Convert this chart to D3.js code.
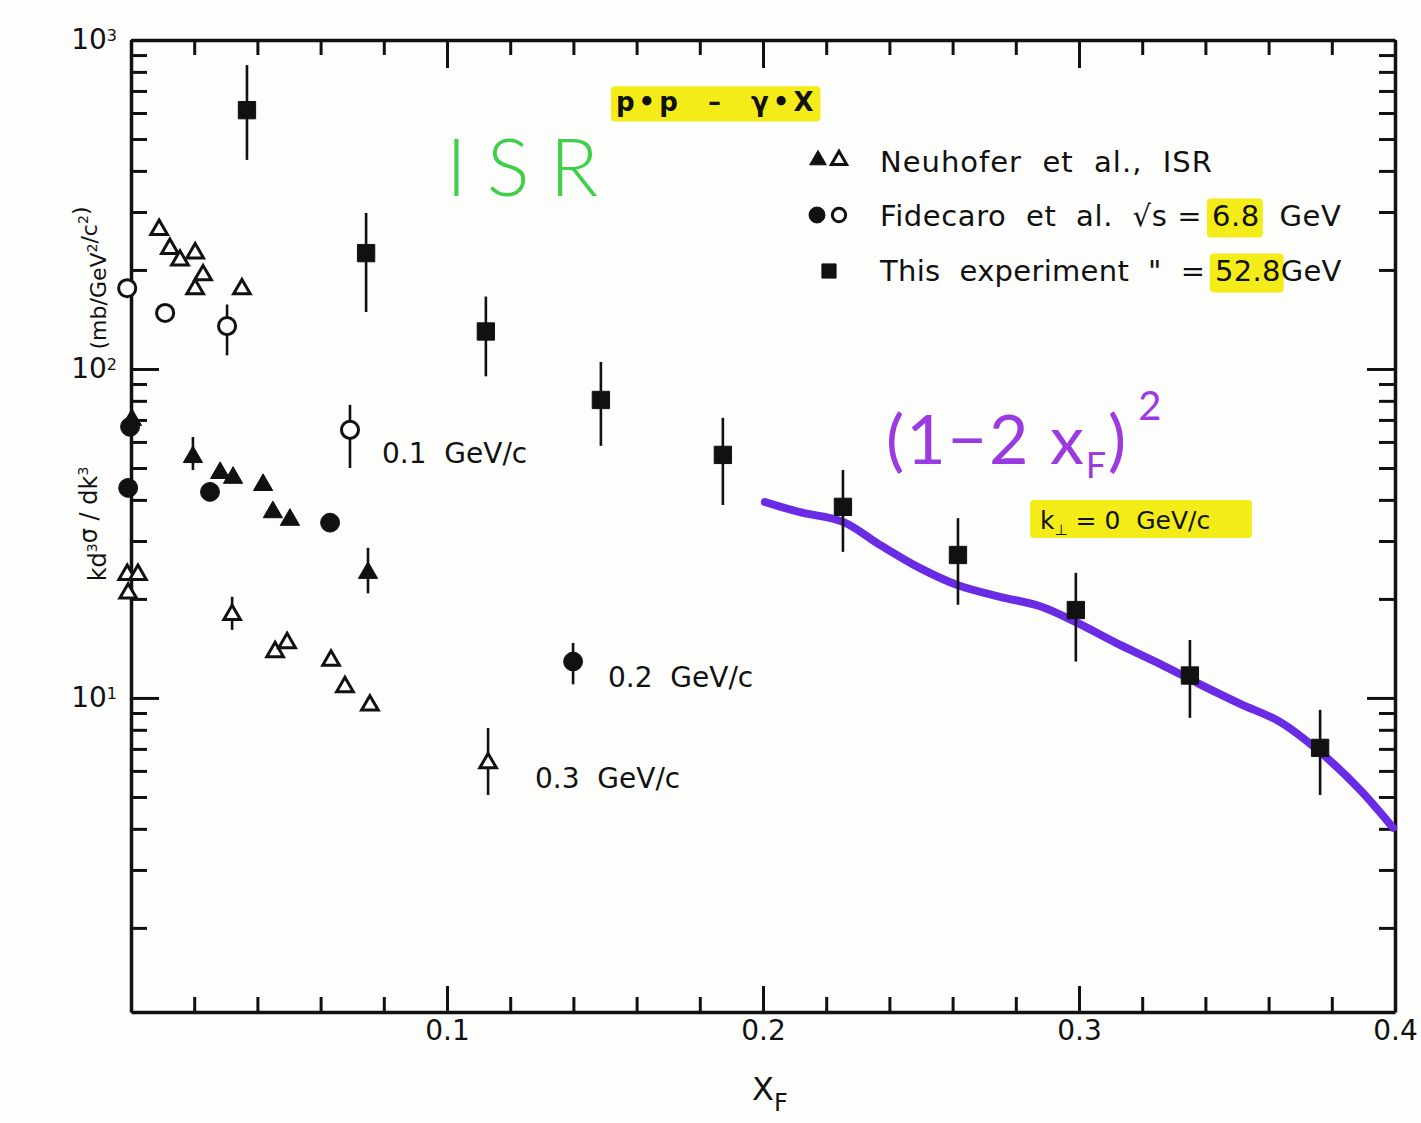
<!DOCTYPE html>
<html>
<head>
<meta charset="utf-8">
<script src="https://cdn.jsdelivr.net/npm/d3@7"></script>
<style>
body { margin: 0; background: #fdfdfb; }
text { font-family: "DejaVu Sans", sans-serif; fill: #111; white-space: pre; }
</style>
</head>
<body>
<div class="chart"></div>
<script>
var width = 1421,
    height = 1123;

// This experiment, sqrt(s) = 52.8 GeV : [xF, value, errLow, errHigh]
var thisExperiment = [
  [0.0367, 612, 432, 839],
  [0.0744, 225, 149, 298],
  [0.1123, 130, 95, 166],
  [0.1487, 80.5, 58.4, 105],
  [0.1873, 54.8, 38.6, 71],
  [0.2253, 38.1, 27.8, 49.3],
  [0.2617, 27.2, 19.2, 35.2],
  [0.2990, 18.5, 12.9, 24],
  [0.3351, 11.7, 8.7, 15],
  [0.3763, 7.05, 5.07, 9.2]
];

// Neuhofer et al., ISR (open = 0.1 and 0.3 GeV/c, filled = 0.2 GeV/c)
var neuhoferOpen01 = [
  [0.0089, 265], [0.0123, 232], [0.0155, 214], [0.0203, 225],
  [0.0228, 193], [0.0203, 175], [0.0351, 175]
];
var neuhoferFilled02 = [
  [0.0003, 70], [0.0196, 54, 49.3, 62.1], [0.0282, 48.3], [0.0323, 46.7],
  [0.0418, 44.4], [0.0449, 36.7], [0.0503, 34.8], [0.0750, 24.0, 20.8, 28.6]
];
var neuhoferOpen03 = [
  [-0.0012, 23.7], [0.0022, 23.7], [-0.0009, 20.8], [0.0320, 17.9, 16.1, 20.3],
  [0.0456, 13.8], [0.0494, 14.7], [0.0633, 13.0], [0.0677, 10.8],
  [0.0756, 9.5], [0.1130, 6.34, 5.07, 8.1]
];

// Fidecaro et al., sqrt(s) = 6.8 GeV
var fidecaroOpen01 = [
  [-0.0012, 176], [0.0108, 148], [0.0304, 135, 110, 157], [0.0693, 65.3, 50, 77.8]
];
var fidecaroFilled02 = [
  [-0.0003, 66.7], [-0.0009, 43.5], [0.0250, 42.3], [0.0630, 34.1], [0.1399, 12.9, 11.0, 14.7]
];

// hand drawn (1-2xF)^2 curve
var curveX = [0.2006, 0.2117, 0.2253, 0.2370, 0.2497, 0.2617, 0.2750, 0.2877, 0.2990,
              0.3130, 0.3256, 0.3383, 0.3510, 0.3636, 0.3763, 0.3890, 0.3994];
var curveY = [39.4, 36.7, 34.3, 29.2, 24.8, 22.0, 20.3, 19.0, 17.0,
              14.5, 12.7, 11.0, 9.6, 8.46, 6.85, 5.25, 4.03];

var xTickLabels = ["0.1", "0.2", "0.3", "0.4"];
var yTickLabels = {10: "1", 100: "2", 1000: "3"};

var svg = d3.select(".chart").append("svg")
    .attr("width", width)
    .attr("height", height);

svg.append("rect").attr("width", width).attr("height", height).attr("fill", "#fdfdfb");

var x = d3.scaleLinear().domain([0, 0.4]).range([131, 1395]);
var y = d3.scaleLog().domain([1.11, 1000]).range([1012, 40]);

var xTicks = d3.range(0, 21).map(function(i) { return i * 0.02; });
var isMajorX = function(d) { return Math.abs(d * 10 - Math.round(d * 10)) < 1e-6; };
var yTicks = y.ticks();
var isMajorY = function(d) { return yTickLabels[d] !== undefined; };

// axes, ticks pointing inward
var gBottom = svg.append("g").attr("transform", "translate(0," + y.range()[0] + ")")
    .call(d3.axisBottom(x).tickValues(xTicks).tickSizeInner(-15).tickSizeOuter(0).tickPadding(8)
      .tickFormat(function(d) { return isMajorX(d) && d > 0 ? xTickLabels[Math.round(d * 10) - 1] : ""; }));
gBottom.selectAll(".tick line").attr("y2", function(d) { return isMajorX(d) ? -26 : -15; });

var gTop = svg.append("g").attr("transform", "translate(0," + y.range()[1] + ")")
    .call(d3.axisTop(x).tickValues(xTicks).tickSizeInner(-15).tickSizeOuter(0).tickFormat(""));
gTop.selectAll(".tick line").attr("y2", function(d) { return isMajorX(d) ? 28 : 15; });

var gLeft = svg.append("g").attr("transform", "translate(" + x.range()[0] + ",0)")
    .call(d3.axisLeft(y).tickValues(yTicks).tickSizeInner(-16).tickSizeOuter(0).tickPadding(14)
      .tickFormat(function(d) { return isMajorY(d) ? "10" : ""; }));
gLeft.selectAll(".tick line").attr("x2", function(d) { return isMajorY(d) ? 28 : 16; });
gLeft.selectAll(".tick text").filter(isMajorY).append("tspan")
    .attr("dy", "-0.55em").attr("font-size", 16).text(function(d) { return yTickLabels[d]; });

var gRight = svg.append("g").attr("transform", "translate(" + x.range()[1] + ",0)")
    .call(d3.axisRight(y).tickValues(yTicks).tickSizeInner(-16).tickSizeOuter(0).tickFormat(""));
gRight.selectAll(".tick line").attr("x2", function(d) { return isMajorY(d) ? -28 : -16; });

svg.selectAll(".domain").attr("stroke", "#111").attr("stroke-width", 3.5);
svg.selectAll(".tick line").attr("stroke", "#111").attr("stroke-width", 3);
svg.selectAll(".tick text").attr("font-size", 28).attr("fill", "#111")
    .style("font-family", "DejaVu Sans");

// axis titles (split around the 10^2 label, as in the original)
function supText(sel, parts) {
  parts.forEach(function(p) {
    if (p.sup) {
      sel.append("tspan").attr("dy", -9).attr("font-size", 14).text(p.sup);
      sel.append("tspan").attr("dy", 9).text("");
    } else {
      sel.append("tspan").text(p.t);
    }
  });
}
var yTitleA = svg.append("text")
    .attr("transform", "translate(106,524) rotate(-90)")
    .attr("text-anchor", "middle")
    .attr("font-size", 24);
supText(yTitleA, [{t: "kd"}, {sup: "3"}, {t: "σ / dk"}, {sup: "3"}]);

var yTitleB = svg.append("text")
    .attr("transform", "translate(106,278) rotate(-90)")
    .attr("text-anchor", "middle")
    .attr("font-size", 22);
supText(yTitleB, [{t: "(mb/GeV"}, {sup: "2"}, {t: "/c"}, {sup: "2"}, {t: ")"}]);

var xTitle = svg.append("text").attr("x", 752).attr("y", 1100).attr("font-size", 32);
xTitle.append("tspan").text("X");
xTitle.append("tspan").attr("dy", 11).attr("font-size", 24).text("F");

// hand drawn fit curve
var curvePts = curveX.map(function(d, i) { return [d, curveY[i]]; });
svg.append("path")
    .datum(curvePts)
    .attr("d", d3.line().x(function(d) { return x(d[0]); }).y(function(d) { return y(d[1]); })
      .curve(d3.curveCatmullRom))
    .attr("fill", "none")
    .attr("stroke", "#6a2be4")
    .attr("stroke-width", 8)
    .attr("stroke-linecap", "round");

// error bars
function errorBars(data) {
  svg.append("g").selectAll("line")
    .data(data.filter(function(d) { return d.length > 2; }))
    .enter().append("line")
      .attr("x1", function(d) { return x(d[0]); })
      .attr("x2", function(d) { return x(d[0]); })
      .attr("y1", function(d) { return y(d[2]); })
      .attr("y2", function(d) { return y(d[3]); })
      .attr("stroke", "#111")
      .attr("stroke-width", 2.6);
}

function markers(data, type, size, open) {
  errorBars(data);
  svg.append("g").selectAll("path")
    .data(data)
    .enter().append("path")
      .attr("d", d3.symbol().type(type).size(size))
      .attr("transform", function(d) { return "translate(" + x(d[0]) + "," + y(d[1]) + ")"; })
      .attr("fill", open ? "#fdfdfb" : "#111")
      .attr("stroke", "#111")
      .attr("stroke-width", open ? 3 : 1);
}

markers(neuhoferOpen01, d3.symbolTriangle, 120, true);
markers(neuhoferOpen03, d3.symbolTriangle, 120, true);
markers(neuhoferFilled02, d3.symbolTriangle, 160, false);
markers(fidecaroOpen01, d3.symbolCircle, 230, true);
markers(fidecaroFilled02, d3.symbolCircle, 280, false);
markers(thisExperiment, d3.symbolSquare, 300, false);

// text pieces laid out left to right, optional yellow highlight
function textRow(x0, yBase, size, parts, opts) {
  opts = opts || {};
  var g = svg.append("g");
  var cx = x0;
  parts.forEach(function(p) {
    var t = g.append("text").attr("x", cx).attr("y", yBase).attr("font-size", size)
      .attr("letter-spacing", opts.spacing || 0)
      .attr("font-weight", opts.weight || "normal")
      .text(p.t);
    var w = t.node().getComputedTextLength();
    if (p.hl) {
      g.insert("rect", "text")
        .attr("x", cx - 5).attr("y", yBase - size * 0.95)
        .attr("width", w + 8).attr("height", size * 1.35)
        .attr("rx", 4)
        .attr("fill", "#f3ec18");
    }
    cx += w;
  });
}

// legend
markers([[x.invert(818), y.invert(160)]], d3.symbolTriangle, 120, false);
markers([[x.invert(839), y.invert(160)]], d3.symbolTriangle, 100, true);
markers([[x.invert(817), y.invert(215)]], d3.symbolCircle, 200, false);
markers([[x.invert(839), y.invert(215)]], d3.symbolCircle, 140, true);
markers([[x.invert(829), y.invert(271)]], d3.symbolSquare, 200, false);

textRow(880, 172, 29, [{t: "Neuhofer  et  al.,  ISR"}], {spacing: 1});
textRow(880, 226, 29, [{t: "Fidecaro  et  al.  √s = "}, {t: "6.8", hl: true}, {t: "  GeV"}], {spacing: 0.6});
textRow(880, 281, 29, [{t: "This  experiment  \"  = "}, {t: "52.8", hl: true}, {t: "GeV"}], {spacing: 0.3});

// reaction and k-perp labels
textRow(616, 111, 26, [{t: "p•p  –  γ•X", hl: true}], {spacing: 4, weight: "bold"});
var kRow = svg.append("g");
kRow.append("rect").attr("x", 1030).attr("y", 500).attr("width", 222).attr("height", 38)
    .attr("rx", 4).attr("fill", "#f3ec18");
var kText = kRow.append("text").attr("x", 1040).attr("y", 529).attr("font-size", 25);
kText.append("tspan").text("k");
kText.append("tspan").attr("dy", 6).attr("font-size", 15).text("⊥");
kText.append("tspan").attr("dy", -6).text(" = 0  GeV/c");

// momentum labels
svg.append("text").attr("x", 382).attr("y", 463).attr("font-size", 28).text("0.1  GeV/c");
svg.append("text").attr("x", 608).attr("y", 687).attr("font-size", 28).text("0.2  GeV/c");
svg.append("text").attr("x", 535).attr("y", 788).attr("font-size", 28).text("0.3  GeV/c");

// handwritten annotations
svg.append("text").attr("x", 446).attr("y", 196).attr("font-size", 80)
    .style("font-family", "Lato").attr("font-weight", 300)
    .attr("letter-spacing", 20)
    .style("fill", "#3fcf4a").text("ISR");

var formula = svg.append("text").attr("x", 886).attr("y", 464).attr("font-size", 68)
    .attr("letter-spacing", 2)
    .style("font-family", "Lato").style("fill", "#9a3ae0");
formula.append("tspan").text("(1−2 x");
formula.append("tspan").attr("dy", 14).attr("font-size", 36).text("F");
formula.append("tspan").attr("dy", -14).text(")");
formula.append("tspan").attr("dy", -44).attr("dx", 10).attr("font-size", 40).text("2");
</script>
</body>
</html>
